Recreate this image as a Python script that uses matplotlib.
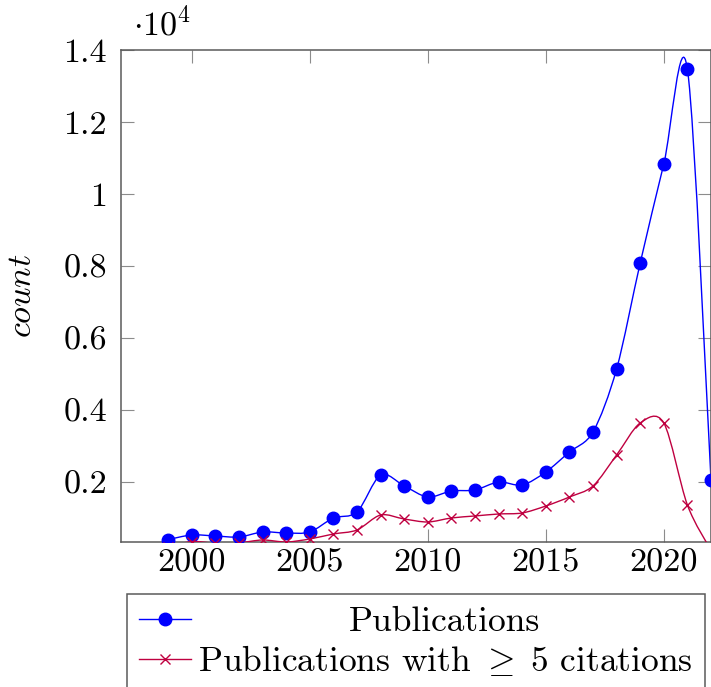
import matplotlib
matplotlib.use("Agg")
import matplotlib.pyplot as plt
from matplotlib.path import Path
from matplotlib.patches import PathPatch
from matplotlib.lines import Line2D
from matplotlib.ticker import FixedLocator, FuncFormatter
import matplotlib.transforms as mtransforms

plt.rcParams["font.family"] = "cmr10"
plt.rcParams["mathtext.fontset"] = "cm"
plt.rcParams["axes.formatter.use_mathtext"] = True

# Data
years = list(range(1999, 2023))
publications = [400, 528, 500, 472, 611, 583, 611, 1000, 1167, 2194, 1889, 1583,
                1750, 1778, 2000, 1917, 2278, 2833, 3389, 5139, 8083, 10833, 13472, 2056]
cited = [200, 345, 300, 310, 389, 333, 417, 556, 667, 1083, 972, 889,
         1000, 1056, 1111, 1139, 1333, 1583, 1889, 2750, 3639, 3639, 1361, 100]

x_ticks = [2000, 2005, 2010, 2015, 2020]
y_ticks = [2000, 4000, 6000, 8000, 10000, 12000, 14000]

BLUE = "#0000ff"
PURPLE = "#bf0040"
FS = 24.5
LEG_FS = 25.5
TENSION = 0.55 * 0.2775  # same as tikz "smooth"


def smooth_path(xs, ys, t=TENSION):
    # cardinal spline through the points, as bezier segments
    n = len(xs)
    verts = [(xs[0], ys[0])]
    codes = [Path.MOVETO]
    for i in range(n - 1):
        a = max(i - 1, 0)
        b = min(i + 2, n - 1)
        c1 = (xs[i] + t * (xs[i + 1] - xs[a]), ys[i] + t * (ys[i + 1] - ys[a]))
        c2 = (xs[i + 1] - t * (xs[b] - xs[i]), ys[i + 1] - t * (ys[b] - ys[i]))
        verts += [c1, c2, (xs[i + 1], ys[i + 1])]
        codes += [Path.CURVE4] * 3
    return Path(verts, codes)


fig = plt.figure(figsize=(7.11, 6.87), dpi=100)
ax = fig.add_axes([121 / 711, 145 / 687, 590 / 711, 492 / 687])

ax.add_patch(PathPatch(smooth_path(years, publications), fill=False,
                       edgecolor=BLUE, lw=1.0, zorder=2))
ax.plot(years, publications, ls="none", marker="o", ms=9, color=BLUE, zorder=3)

ax.add_patch(PathPatch(smooth_path(years, cited), fill=False,
                       edgecolor=PURPLE, lw=1.0, zorder=4))
ax.plot(years, cited, ls="none", marker="x", ms=7, mew=1.0, color=PURPLE, zorder=5)

ax.set_xlim(1997, 2022)
ax.set_ylim(333, 14000)

ax.xaxis.set_major_locator(FixedLocator(x_ticks))
ax.yaxis.set_major_locator(FixedLocator(y_ticks))
ax.xaxis.set_major_formatter(FuncFormatter(lambda v, _: f"{v:.0f}"))
ax.yaxis.set_major_formatter(FuncFormatter(lambda v, _: f"{v / 1e4:g}"))
ax.tick_params(direction="in", length=9.5, width=0.8, color="#8c8c8c",
               labelsize=FS, top=True, right=True)
ax.tick_params(axis="x", pad=5)
ax.tick_params(axis="y", pad=10)

for sp in ax.spines.values():
    sp.set_color("#5a5a5a")
    sp.set_linewidth(1.1)

ax.set_ylabel(r"$count$", fontsize=FS)
ax.yaxis.set_label_coords(-0.143, 0.5)

fig.text(133 / 711, 1 - 35 / 687, r"$\cdot 10^{4}$", fontsize=FS, va="baseline")

# Legend below the plot, text centred like pgfplots
handles = [
    Line2D([], [], color=BLUE, lw=1.0, marker="o", ms=9),
    Line2D([], [], color=PURPLE, lw=1.0, marker="x", ms=7, mew=1.0),
]
labels = ["Publications", r"Publications with $\geq\;5$ citations"]
leg = ax.legend(handles, labels, loc="upper left",
                bbox_to_anchor=(127 / 711, 1 - 594 / 687),
                bbox_transform=fig.transFigure, fontsize=LEG_FS,
                frameon=True, fancybox=False, shadow=False, framealpha=1,
                edgecolor="#5a5a5a", borderpad=0.35, labelspacing=0.15,
                handlelength=1.45, handletextpad=0.2, borderaxespad=0)
leg.get_frame().set_linewidth(1.1)

fig.canvas.draw()
renderer = fig.canvas.get_renderer()
w0 = leg.texts[0].get_window_extent(renderer).width
w1 = leg.texts[1].get_window_extent(renderer).width
t0 = leg.texts[0]
t0.set_transform(t0.get_transform() + mtransforms.Affine2D().translate((w1 - w0) / 2, 0))

fig.savefig("out.png", dpi=100)
